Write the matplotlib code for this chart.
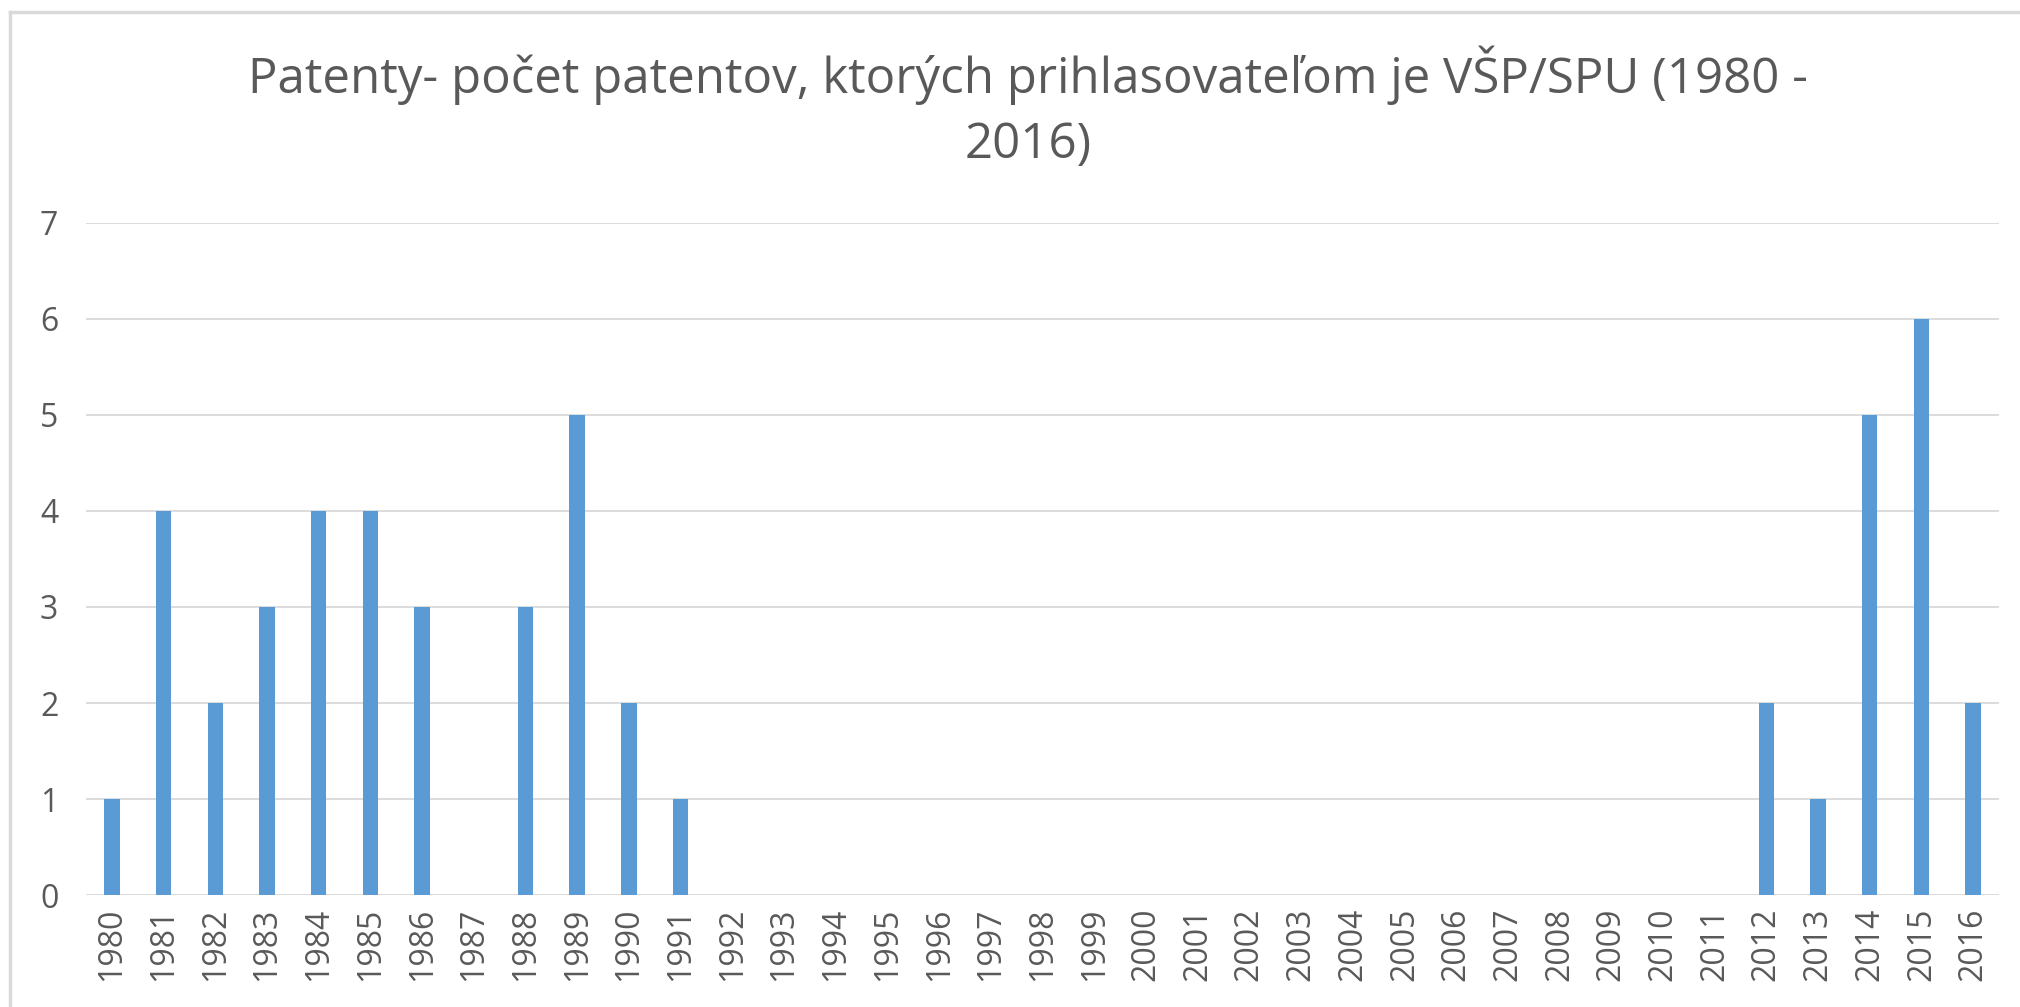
import numpy as np
import matplotlib
matplotlib.use("Agg")
import matplotlib.pyplot as plt
from matplotlib.lines import Line2D

years = [str(y) for y in range(1980, 2017)]
counts = [1, 4, 2, 3, 4, 4, 3, 0, 3, 5, 2, 1,
          0, 0, 0, 0, 0, 0, 0, 0, 0, 0, 0, 0, 0, 0, 0, 0, 0, 0, 0, 0,
          2, 1, 5, 6, 2]
title = "Patenty- počet patentov, ktorých prihlasovateľom je VŠP/SPU (1980 -\n2016)"

TXT = "#595959"
plt.rcParams["font.family"] = ["Open Sans", "DejaVu Sans"]

fig = plt.figure(figsize=(20.2, 10.07), dpi=100)
ax = fig.add_axes([0.0426, 0.111, 0.947, 0.668])

x = np.arange(len(years))
ax.bar(x, counts, width=0.3, color="#5b9bd5", zorder=3)
ax.set_xlim(-0.5, len(years) - 0.5)
ax.set_ylim(0, 7)
ax.set_yticks(range(8))
ax.set_xticks(x)
ax.set_xticklabels(years, rotation=90)
ax.tick_params(axis="both", length=0, colors=TXT, labelsize=23)
ax.tick_params(axis="y", pad=20)
ax.tick_params(axis="x", pad=9)
ax.grid(axis="y", color="#d9d9d9", linewidth=1.3, zorder=0)
for s in ax.spines.values():
    s.set_visible(False)

fig.text(0.509, 0.955, title, ha="center", va="top", fontsize=35.5,
         color=TXT, linespacing=1.42)

# chart frame (left and top edges visible)
fig.add_artist(Line2D([0.005, 0.005], [0.0, 0.988], transform=fig.transFigure,
                      color="#d9d9d9", linewidth=2.5))
fig.add_artist(Line2D([0.005, 1.0], [0.988, 0.988], transform=fig.transFigure,
                      color="#d9d9d9", linewidth=2.5))

fig.savefig("out.png", dpi=100, facecolor="white")
